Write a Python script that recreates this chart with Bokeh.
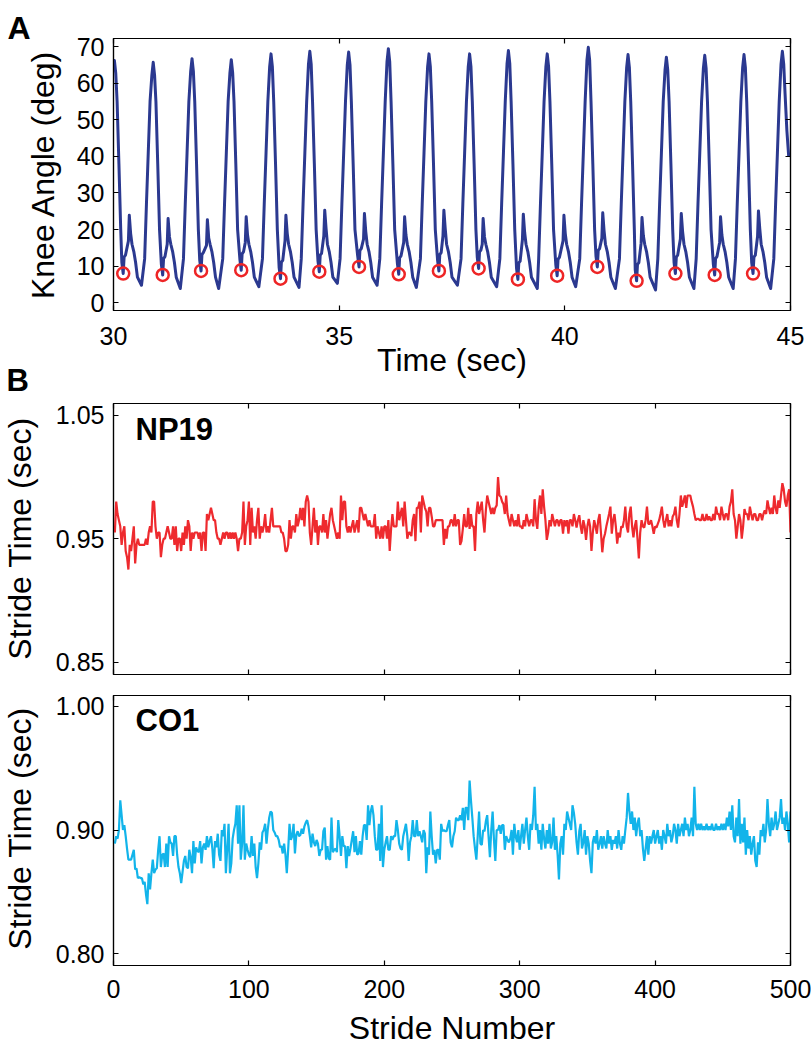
from bokeh.plotting import figure
from bokeh.models import LinearAxis, FixedTicker, Label, PrintfTickFormatter, Range1d
from bokeh.layouts import column, row
from bokeh.embed import file_html
from bokeh.resources import INLINE

# ---------------- Panel A: knee angle trace ----------------
knee_time = [
    30.00,
    30.02, 30.05, 30.08, 30.12, 30.16, 30.185, 30.215, 30.235, 30.265, 30.33, 30.35, 30.38, 30.41, 30.45, 30.49, 30.53, 30.62, 30.69, 30.73, 30.77, 30.81, 30.85,
    30.88, 30.91, 30.94, 30.98, 31.02, 31.06, 31.09, 31.11, 31.14, 31.19, 31.21, 31.24, 31.27, 31.31, 31.35, 31.39, 31.48, 31.55, 31.59, 31.63, 31.67, 31.71,
    31.74, 31.77, 31.80, 31.84, 31.88, 31.91, 31.94, 31.96, 31.99, 32.06, 32.08, 32.11, 32.14, 32.18, 32.22, 32.26, 32.33, 32.42, 32.46, 32.50, 32.54, 32.58,
    32.61, 32.64, 32.67, 32.71, 32.75, 32.80, 32.83, 32.85, 32.88, 32.92, 32.94, 32.97, 33.00, 33.04, 33.08, 33.12, 33.22, 33.30, 33.34, 33.38, 33.42, 33.46,
    33.49, 33.52, 33.55, 33.59, 33.63, 33.67, 33.70, 33.72, 33.75, 33.80, 33.82, 33.85, 33.88, 33.92, 33.96, 34.00, 34.11, 34.16, 34.20, 34.24, 34.28, 34.32,
    34.35, 34.38, 34.41, 34.45, 34.49, 34.53, 34.56, 34.58, 34.61, 34.66, 34.68, 34.71, 34.74, 34.78, 34.82, 34.86, 34.96, 35.02, 35.06, 35.10, 35.14, 35.18,
    35.21, 35.24, 35.27, 35.31, 35.35, 35.41, 35.44, 35.46, 35.49, 35.54, 35.56, 35.59, 35.62, 35.66, 35.70, 35.74, 35.84, 35.90, 35.94, 35.98, 36.02, 36.06,
    36.09, 36.12, 36.15, 36.19, 36.23, 36.29, 36.32, 36.34, 36.37, 36.43, 36.45, 36.48, 36.51, 36.55, 36.59, 36.63, 36.71, 36.80, 36.84, 36.88, 36.92, 36.96,
    36.99, 37.02, 37.05, 37.09, 37.13, 37.18, 37.21, 37.23, 37.26, 37.30, 37.32, 37.35, 37.38, 37.42, 37.46, 37.50, 37.62, 37.70, 37.74, 37.78, 37.82, 37.86,
    37.89, 37.92, 37.95, 37.99, 38.03, 38.06, 38.09, 38.11, 38.14, 38.17, 38.19, 38.22, 38.25, 38.29, 38.33, 38.37, 38.49, 38.56, 38.60, 38.64, 38.68, 38.72,
    38.75, 38.78, 38.81, 38.85, 38.89, 38.93, 38.96, 38.98, 39.01, 39.06, 39.08, 39.11, 39.14, 39.18, 39.22, 39.26, 39.39, 39.42, 39.46, 39.50, 39.54, 39.58,
    39.61, 39.64, 39.67, 39.71, 39.75, 39.80, 39.83, 39.85, 39.88, 39.96, 39.98, 40.01, 40.04, 40.08, 40.12, 40.16, 40.24, 40.33, 40.37, 40.41, 40.45, 40.49,
    40.52, 40.55, 40.58, 40.62, 40.66, 40.69, 40.72, 40.74, 40.77, 40.82, 40.84, 40.87, 40.90, 40.94, 40.98, 41.02, 41.12, 41.21, 41.25, 41.29, 41.33, 41.37,
    41.40, 41.43, 41.46, 41.50, 41.54, 41.56, 41.59, 41.61, 41.64, 41.69, 41.71, 41.74, 41.77, 41.81, 41.85, 41.89, 42.01, 42.06, 42.10, 42.14, 42.18, 42.22,
    42.25, 42.28, 42.31, 42.35, 42.39, 42.42, 42.45, 42.47, 42.50, 42.56, 42.58, 42.61, 42.64, 42.68, 42.72, 42.76, 42.86, 42.91, 42.95, 42.99, 43.03, 43.07,
    43.10, 43.13, 43.16, 43.20, 43.24, 43.29, 43.32, 43.34, 43.37, 43.43, 43.45, 43.48, 43.51, 43.55, 43.59, 43.63, 43.73, 43.78, 43.82, 43.86, 43.90, 43.94,
    43.97, 44.00, 44.03, 44.07, 44.11, 44.14, 44.17, 44.19, 44.22, 44.27, 44.29, 44.32, 44.35, 44.39, 44.43, 44.47, 44.56, 44.63, 44.67, 44.71, 44.75, 44.79,
    44.82, 44.85, 44.88, 44.92, 44.96,
]
knee_angle = [
    65.4,
    66.2, 62.7, 55, 38, 20, 11.0, 8.0, 12.5, 13.0, 16.9, 23.9, 18.9, 16, 14, 11, 7, 4.8, 12, 27, 41, 55, 62.2,
    65.7, 62.2, 55, 38, 20, 10.6, 7.6, 12.1, 12.6, 16.0, 23.0, 18.0, 16, 14, 11, 7, 3.9, 12, 27, 41, 55, 63.2,
    66.7, 63.2, 55, 38, 20, 11.7, 8.7, 13.2, 13.7, 15.7, 22.7, 17.7, 16, 14, 11, 7, 3.9, 12, 27, 41, 55, 62.9,
    66.4, 62.9, 55, 38, 20, 11.9, 8.9, 13.4, 13.9, 16.5, 23.5, 18.5, 16, 14, 11, 7, 4.4, 12, 27, 41, 55, 64.5,
    68.0, 64.5, 55, 38, 20, 9.6, 6.6, 11.1, 11.6, 16.9, 23.9, 18.9, 16, 14, 11, 7, 4.2, 12, 27, 41, 55, 65.2,
    68.7, 65.2, 55, 38, 20, 11.5, 8.5, 13.0, 13.5, 18.3, 25.3, 20.3, 16, 14, 11, 7, 5.3, 12, 27, 41, 55, 65.0,
    68.5, 65.0, 55, 38, 20, 12.8, 9.8, 14.3, 14.8, 17.4, 24.4, 19.4, 16, 14, 11, 7, 4.8, 12, 27, 41, 55, 65.9,
    69.4, 65.9, 55, 38, 20, 10.8, 7.8, 12.3, 12.8, 16.5, 23.5, 18.5, 16, 14, 11, 7, 4.2, 12, 27, 41, 55, 64.5,
    68.0, 64.5, 55, 38, 20, 11.7, 8.7, 13.2, 13.7, 18.3, 25.3, 20.3, 16, 14, 11, 7, 4.8, 12, 27, 41, 55, 64.5,
    68.0, 64.5, 55, 38, 20, 12.4, 9.4, 13.9, 14.4, 16.0, 23.0, 18.0, 16, 14, 11, 7, 4.4, 12, 27, 41, 55, 65.4,
    68.9, 65.4, 55, 38, 20, 9.4, 6.4, 10.9, 11.4, 17.2, 24.2, 19.2, 16, 14, 11, 7, 3.9, 12, 27, 41, 55, 64.5,
    68.0, 64.5, 55, 38, 20, 10.4, 7.4, 11.9, 12.4, 16.9, 23.9, 18.9, 16, 14, 11, 7, 4.4, 12, 27, 41, 55, 66.3,
    69.8, 66.3, 55, 38, 20, 12.8, 9.8, 14.3, 14.8, 17.6, 24.6, 19.6, 16, 14, 11, 7, 3.9, 12, 27, 41, 55, 64.3,
    67.8, 64.3, 55, 38, 20, 9.0, 6.0, 10.5, 11.0, 16.3, 23.3, 18.3, 16, 14, 11, 7, 3.5, 12, 27, 41, 55, 63.6,
    67.1, 63.6, 55, 38, 20, 11.0, 8.0, 12.5, 13.0, 17.4, 24.4, 19.4, 16, 14, 11, 7, 3.9, 12, 27, 41, 55, 64.1,
    67.6, 64.1, 55, 38, 20, 10.6, 7.6, 12.1, 12.6, 16.5, 23.5, 18.5, 16, 14, 11, 7, 3.9, 12, 27, 41, 55, 64.3,
    67.8, 64.3, 55, 38, 20, 11.0, 8.0, 12.5, 13.0, 18.1, 25.1, 20.1, 16, 14, 11, 7, 3.9, 12, 27, 41, 55, 65.2,
    68.7, 65.2, 57, 47, 40,
]
hs_time = [30.215, 31.09, 31.94, 32.83, 33.70, 34.56, 35.44, 36.32, 37.21, 38.09,
           38.96, 39.83, 40.72, 41.59, 42.45, 43.32, 44.17]
hs_angle = [8.0, 7.6, 8.7, 8.9, 6.6, 8.5, 9.8, 7.8, 8.7, 9.4,
            6.4, 7.4, 9.8, 6.0, 8.0, 7.6, 8.0]

# ---------------- Panel B: stride time series ----------------
np19 = [
    0.955, 0.980, 0.970, 0.965, 0.960, 0.945, 0.955, 0.960, 0.940, 0.935,
    0.925, 0.945, 0.940, 0.950, 0.960, 0.930, 0.945, 0.950, 0.945, 0.945,
    0.945, 0.945, 0.945, 0.950, 0.945, 0.955, 0.960, 0.955, 0.980, 0.980,
    0.960, 0.950, 0.955, 0.955, 0.935, 0.945, 0.950, 0.950, 0.955, 0.960,
    0.955, 0.950, 0.950, 0.960, 0.945, 0.960, 0.940, 0.950, 0.950, 0.940,
    0.955, 0.945, 0.960, 0.950, 0.965, 0.960, 0.940, 0.955, 0.950, 0.955,
    0.955, 0.955, 0.950, 0.955, 0.940, 0.955, 0.955, 0.940, 0.970, 0.965,
    0.970, 0.975, 0.970, 0.965, 0.965, 0.955, 0.950, 0.950, 0.945, 0.950,
    0.955, 0.950, 0.955, 0.955, 0.950, 0.955, 0.950, 0.955, 0.950, 0.955,
    0.950, 0.940, 0.950, 0.950, 0.955, 0.980, 0.945, 0.960, 0.965, 0.980,
    0.945, 0.975, 0.955, 0.960, 0.950, 0.965, 0.975, 0.950, 0.960, 0.955,
    0.960, 0.970, 0.955, 0.960, 0.955, 0.965, 0.975, 0.960, 0.960, 0.960,
    0.960, 0.960, 0.960, 0.955, 0.955, 0.950, 0.940, 0.940, 0.945, 0.965,
    0.950, 0.960, 0.960, 0.955, 0.970, 0.960, 0.965, 0.975, 0.965, 0.975,
    0.960, 0.980, 0.985, 0.980, 0.955, 0.945, 0.960, 0.975, 0.955, 0.965,
    0.945, 0.960, 0.960, 0.955, 0.970, 0.955, 0.965, 0.950, 0.960, 0.970,
    0.975, 0.965, 0.960, 0.955, 0.950, 0.955, 0.950, 0.985, 0.965, 0.980,
    0.980, 0.960, 0.955, 0.960, 0.955, 0.960, 0.965, 0.955, 0.960, 0.965,
    0.955, 0.975, 0.975, 0.970, 0.965, 0.970, 0.965, 0.960, 0.965, 0.960,
    0.960, 0.960, 0.970, 0.950, 0.960, 0.955, 0.950, 0.960, 0.950, 0.960,
    0.960, 0.950, 0.965, 0.940, 0.958, 0.970, 0.960, 0.960, 0.960, 0.980,
    0.965, 0.970, 0.975, 0.960, 0.980, 0.965, 0.950, 0.955, 0.955, 0.952,
    0.965, 0.970, 0.948, 0.975, 0.975, 0.980, 0.955, 0.985, 0.980, 0.975,
    0.972, 0.960, 0.975, 0.975, 0.968, 0.960, 0.960, 0.965, 0.965, 0.965,
    0.965, 0.965, 0.965, 0.945, 0.958, 0.950, 0.960, 0.960, 0.965, 0.965,
    0.960, 0.970, 0.960, 0.965, 0.965, 0.945, 0.948, 0.958, 0.970, 0.960,
    0.960, 0.975, 0.958, 0.970, 0.960, 0.960, 0.940, 0.970, 0.980, 0.970,
    0.975, 0.980, 0.965, 0.955, 0.973, 0.985, 0.980, 0.975, 0.970, 0.975,
    0.970, 0.975, 0.977, 1.000, 0.985, 0.984, 0.980, 0.978, 0.970, 0.985,
    0.970, 0.965, 0.960, 0.970, 0.965, 0.960, 0.965, 0.960, 0.970, 0.960,
    0.960, 0.958, 0.965, 0.960, 0.970, 0.965, 0.960, 0.965, 0.965, 0.960,
    0.982, 0.965, 0.958, 0.975, 0.985, 0.970, 0.990, 0.976, 0.965, 0.949,
    0.955, 0.965, 0.960, 0.970, 0.965, 0.960, 0.965, 0.965, 0.960, 0.965,
    0.965, 0.954, 0.965, 0.960, 0.965, 0.954, 0.965, 0.965, 0.960, 0.970,
    0.965, 0.959, 0.965, 0.969, 0.960, 0.954, 0.965, 0.960, 0.949, 0.960,
    0.966, 0.960, 0.940, 0.955, 0.965, 0.960, 0.954, 0.965, 0.970, 0.955,
    0.939, 0.950, 0.954, 0.960, 0.965, 0.970, 0.976, 0.954, 0.965, 0.970,
    0.960, 0.946, 0.955, 0.951, 0.960, 0.959, 0.965, 0.976, 0.960, 0.955,
    0.970, 0.976, 0.960, 0.951, 0.960, 0.965, 0.950, 0.934, 0.955, 0.965,
    0.960, 0.959, 0.965, 0.976, 0.962, 0.962, 0.965, 0.960, 0.954, 0.960,
    0.959, 0.962, 0.965, 0.970, 0.976, 0.965, 0.959, 0.965, 0.970, 0.960,
    0.965, 0.960, 0.968, 0.970, 0.976, 0.965, 0.959, 0.970, 0.985, 0.976,
    0.980, 0.985, 0.975, 0.985, 0.985, 0.985, 0.980, 0.976, 0.970, 0.965,
    0.966, 0.966, 0.965, 0.965, 0.970, 0.965, 0.965, 0.970, 0.965, 0.968,
    0.965, 0.965, 0.970, 0.965, 0.976, 0.970, 0.970, 0.965, 0.976, 0.970,
    0.965, 0.970, 0.970, 0.965, 0.976, 0.980, 0.990, 0.970, 0.965, 0.950,
    0.960, 0.970, 0.965, 0.950, 0.960, 0.974, 0.970, 0.970, 0.965, 0.976,
    0.970, 0.965, 0.970, 0.970, 0.965, 0.965, 0.970, 0.970, 0.965, 0.970,
    0.973, 0.970, 0.981, 0.975, 0.970, 0.975, 0.970, 0.985, 0.975, 0.970,
    0.981, 0.975, 0.985, 0.995, 0.990, 0.980, 0.976, 0.985, 0.990, 0.955,
]
co1 = [
    0.889, 0.895, 0.893, 0.900, 0.924, 0.912, 0.900, 0.904, 0.895, 0.885,
    0.876, 0.876, 0.876, 0.880, 0.884, 0.868, 0.869, 0.861, 0.862, 0.861,
    0.861, 0.856, 0.858, 0.848, 0.840, 0.865, 0.852, 0.865, 0.876, 0.865,
    0.868, 0.869, 0.884, 0.895, 0.870, 0.880, 0.881, 0.870, 0.889, 0.870,
    0.895, 0.890, 0.889, 0.879, 0.895, 0.895, 0.880, 0.870, 0.865, 0.857,
    0.866, 0.875, 0.879, 0.870, 0.869, 0.884, 0.878, 0.865, 0.891, 0.873,
    0.886, 0.883, 0.882, 0.891, 0.873, 0.886, 0.889, 0.884, 0.895, 0.886,
    0.891, 0.895, 0.885, 0.869, 0.891, 0.886, 0.897, 0.880, 0.875, 0.900,
    0.895, 0.905, 0.865, 0.885, 0.905, 0.865, 0.873, 0.893, 0.900, 0.905,
    0.920, 0.889, 0.920, 0.876, 0.889, 0.920, 0.876, 0.889, 0.884, 0.880,
    0.878, 0.895, 0.879, 0.889, 0.870, 0.861, 0.873, 0.890, 0.884, 0.898,
    0.900, 0.905, 0.889, 0.901, 0.910, 0.915, 0.914, 0.900, 0.898, 0.895,
    0.895, 0.892, 0.886, 0.887, 0.881, 0.889, 0.880, 0.865, 0.884, 0.905,
    0.892, 0.895, 0.905, 0.881, 0.896, 0.899, 0.895, 0.896, 0.901, 0.897,
    0.903, 0.906, 0.908, 0.903, 0.895, 0.886, 0.897, 0.890, 0.887, 0.892,
    0.889, 0.879, 0.884, 0.884, 0.899, 0.902, 0.876, 0.887, 0.877, 0.876,
    0.910, 0.882, 0.884, 0.885, 0.882, 0.908, 0.895, 0.879, 0.895, 0.887,
    0.887, 0.869, 0.887, 0.879, 0.885, 0.892, 0.899, 0.882, 0.895, 0.880,
    0.881, 0.891, 0.880, 0.895, 0.904, 0.904, 0.892, 0.920, 0.904, 0.915,
    0.920, 0.912, 0.895, 0.884, 0.884, 0.905, 0.875, 0.920, 0.870, 0.884,
    0.890, 0.895, 0.884, 0.884, 0.895, 0.892, 0.895, 0.895, 0.908, 0.900,
    0.889, 0.885, 0.884, 0.895, 0.900, 0.905, 0.895, 0.875, 0.890, 0.895,
    0.908, 0.895, 0.895, 0.908, 0.895, 0.899, 0.895, 0.890, 0.900, 0.897,
    0.865, 0.886, 0.880, 0.915, 0.895, 0.880, 0.884, 0.873, 0.884, 0.884,
    0.876, 0.905, 0.899, 0.900, 0.899, 0.899, 0.904, 0.908, 0.890, 0.886,
    0.895, 0.899, 0.910, 0.908, 0.908, 0.912, 0.908, 0.918, 0.900, 0.918,
    0.918, 0.908, 0.940, 0.924, 0.910, 0.895, 0.885, 0.876, 0.895, 0.915,
    0.889, 0.888, 0.900, 0.899, 0.907, 0.912, 0.895, 0.878, 0.900, 0.915,
    0.892, 0.875, 0.900, 0.900, 0.904, 0.897, 0.904, 0.904, 0.884, 0.895,
    0.892, 0.890, 0.893, 0.900, 0.880, 0.905, 0.895, 0.890, 0.900, 0.884,
    0.895, 0.905, 0.889, 0.900, 0.910, 0.895, 0.884, 0.905, 0.900, 0.912,
    0.935, 0.900, 0.905, 0.889, 0.900, 0.884, 0.905, 0.893, 0.885, 0.900,
    0.889, 0.905, 0.885, 0.890, 0.910, 0.884, 0.895, 0.880, 0.860, 0.889,
    0.895, 0.880, 0.905, 0.900, 0.915, 0.910, 0.905, 0.900, 0.920, 0.914,
    0.905, 0.890, 0.880, 0.899, 0.905, 0.885, 0.890, 0.900, 0.880, 0.895,
    0.889, 0.875, 0.865, 0.890, 0.895, 0.889, 0.900, 0.884, 0.889, 0.895,
    0.885, 0.895, 0.889, 0.885, 0.900, 0.889, 0.895, 0.884, 0.892, 0.889,
    0.895, 0.885, 0.900, 0.889, 0.884, 0.895, 0.889, 0.900, 0.910, 0.930,
    0.915, 0.905, 0.915, 0.900, 0.910, 0.895, 0.905, 0.910, 0.895, 0.900,
    0.885, 0.875, 0.885, 0.895, 0.880, 0.895, 0.889, 0.895, 0.900, 0.889,
    0.895, 0.900, 0.889, 0.895, 0.884, 0.900, 0.895, 0.889, 0.905, 0.895,
    0.900, 0.890, 0.895, 0.905, 0.900, 0.889, 0.905, 0.895, 0.900, 0.905,
    0.895, 0.910, 0.900, 0.905, 0.895, 0.900, 0.910, 0.895, 0.935, 0.905,
    0.900, 0.905, 0.900, 0.905, 0.900, 0.903, 0.900, 0.905, 0.900, 0.903,
    0.900, 0.905, 0.900, 0.900, 0.905, 0.900, 0.903, 0.900, 0.905, 0.900,
    0.905, 0.900, 0.910, 0.903, 0.915, 0.900, 0.920, 0.895, 0.890, 0.910,
    0.895, 0.925, 0.889, 0.905, 0.890, 0.910, 0.880, 0.900, 0.885, 0.895,
    0.880, 0.889, 0.895, 0.875, 0.870, 0.890, 0.880, 0.900, 0.895, 0.905,
    0.890, 0.900, 0.925, 0.905, 0.895, 0.910, 0.900, 0.905, 0.915, 0.900,
    0.905, 0.910, 0.925, 0.905, 0.910, 0.900, 0.915, 0.905, 0.890, 0.915,
]
stride_np19 = list(range(1, len(np19) + 1))
stride_co1 = list(range(1, len(co1) + 1))

# tick positions / labels
a_xticks = [30, 35, 40, 45]
a_yticks = [0, 10, 20, 30, 40, 50, 60, 70]
b_xticks = [0, 100, 200, 300, 400, 500]
b1_yticks = [0.85, 0.95, 1.05]
b2_yticks = [0.80, 0.90, 1.00]

FONT = "Liberation Sans"
BLUE = "#2B3990"
RED = "#EE2526"
RED_LINE = "#EE2A2E"
CYAN = "#12B4EA"
TOTAL_W = 811
GUT_A = 66     # gutter holding the panel letters and the A y-title
GUT_B = 50     # gutter holding the B y-titles


def make_fig(w, h, xr, yr, bl, br, bt, bb):
    p = figure(width=w, height=h, x_range=xr, y_range=yr,
               output_backend="svg", toolbar_location=None,
               min_border_left=bl, min_border_right=br,
               min_border_top=bt, min_border_bottom=bb)
    p.grid.visible = False
    p.outline_line_color = "black"
    p.outline_line_width = 1.2
    return p


def make_gutter(w, h):
    g = figure(width=w, height=h, x_range=Range1d(0, 1), y_range=Range1d(0, 1),
               output_backend="svg", toolbar_location=None,
               x_axis_type=None, y_axis_type=None, min_border=0)
    g.grid.visible = False
    g.outline_line_color = None
    return g


def txt(text, x, y, size, bold=False, angle=0, align="left"):
    return Label(x=x, y=y, x_units="screen", y_units="screen", text=text,
                 text_font=FONT, text_font_size=size,
                 text_font_style="bold" if bold else "normal",
                 text_baseline="middle", text_align=align,
                 angle=angle, angle_units="deg", text_color="black")


def hide_labels(ax):
    ax.major_label_text_font_size = "0px"
    ax.major_label_text_color = None
    ax.major_label_standoff = 0


def style_axes(p, xticks, yticks, yfmt=None, xlabels=True,
               x_label_standoff=5, x_tick_standoff=12):
    top = LinearAxis()
    right = LinearAxis()
    p.add_layout(top, "above")
    p.add_layout(right, "right")
    xaxes = [p.below[0], top]
    yaxes = [p.left[0], right]
    for ax in xaxes:
        ax.ticker = FixedTicker(ticks=xticks)
    for ax in yaxes:
        ax.ticker = FixedTicker(ticks=yticks)
        if yfmt:
            ax.formatter = PrintfTickFormatter(format=yfmt)
    for ax in xaxes + yaxes:
        ax.major_tick_in = 5
        ax.major_tick_out = 0
        ax.minor_tick_in = 0
        ax.minor_tick_out = 0
        ax.axis_line_width = 1.2
        ax.major_tick_line_width = 1.2
        ax.axis_line_color = "black"
        ax.major_tick_line_color = "black"
        ax.major_label_text_font = FONT
        ax.major_label_text_font_size = "25px"
        ax.major_label_text_color = "black"
        ax.axis_label_text_font = FONT
        ax.axis_label_text_font_size = "32px"
        ax.axis_label_text_font_style = "normal"
        ax.axis_label_text_color = "black"
    hide_labels(top)
    hide_labels(right)
    p.left[0].major_label_standoff = 9
    p.below[0].major_label_standoff = x_tick_standoff
    p.below[0].axis_label_standoff = x_label_standoff
    if not xlabels:
        hide_labels(p.below[0])


# ---- Row A ----
pA = make_fig(TOTAL_W - GUT_A, 398, Range1d(30, 45), Range1d(-2.1, 72.2),
              113 - GUT_A, 21, 38, 88)
pA.line(knee_time, knee_angle, line_color=BLUE, line_width=3, line_join="round")
pA.scatter(hs_time, hs_angle, marker="circle", size=12, fill_color=None,
           line_color=RED, line_width=2.5)
pA.xaxis.axis_label = "Time (sec)"
style_axes(pA, a_xticks, a_yticks, x_label_standoff=-6, x_tick_standoff=16)

gA = make_gutter(GUT_A, 398)
# panel letters live in the gutter's side panels (not clipped to its frame)
gA.add_layout(txt("A", 7, 11, "32px", bold=True), "above")
gA.add_layout(txt("B", 6, -35, "31px", bold=True), "below")
gA.add_layout(txt("Knee Angle (deg)", 42, 136, "32px", angle=90, align="center"))

# ---- Row B1 (NP19) ----
pB1 = make_fig(TOTAL_W - GUT_B, 282, Range1d(0, 500), Range1d(0.84, 1.0595),
               113 - GUT_B, 21, 5, 6)
pB1.line(stride_np19, np19, line_color=RED_LINE, line_width=2.2)
style_axes(pB1, b_xticks, b1_yticks, yfmt="%.2f", xlabels=False)
pB1.add_layout(txt("NP19", 22, 245, "31px", bold=True))

gB1 = make_gutter(GUT_B, 282)
gB1.add_layout(txt("Stride Time (sec)", 19, 136, "32px", angle=90, align="center"))

# ---- Row B2 (CO1) ----
pB2 = make_fig(TOTAL_W - GUT_B, 368, Range1d(0, 500), Range1d(0.7903, 1.0089),
               113 - GUT_B, 21, 15, 82)
pB2.line(stride_co1, co1, line_color=CYAN, line_width=2.2)
pB2.xaxis.axis_label = "Stride Number"
style_axes(pB2, b_xticks, b2_yticks, yfmt="%.2f", x_label_standoff=9, x_tick_standoff=14)
pB2.add_layout(txt("CO1", 22, 245, "31px", bold=True))

gB2 = make_gutter(GUT_B, 368)
gB2.add_layout(txt("Stride Time (sec)", 19, 137, "32px", angle=90, align="center"))

layout = column(row(gA, pA), row(gB1, pB1), row(gB2, pB2))
open("out.html", "w").write(file_html(layout, INLINE))
